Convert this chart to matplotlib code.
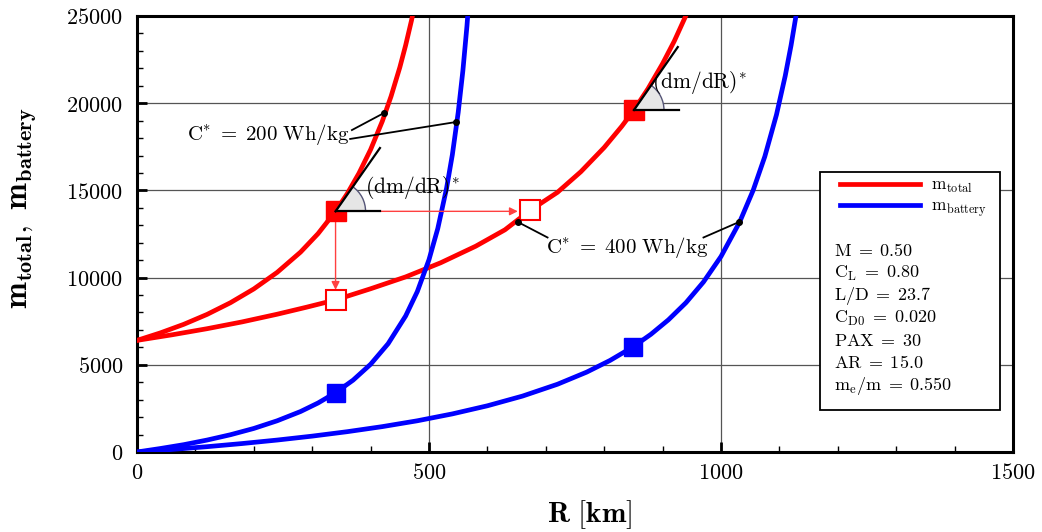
import numpy as np
import matplotlib
matplotlib.use('Agg')
import matplotlib.pyplot as plt
import matplotlib.transforms as mtransforms
from matplotlib.patches import Wedge, Rectangle
from matplotlib.ticker import MultipleLocator, FuncFormatter

plt.rcParams['mathtext.fontset'] = 'cm'
plt.rcParams['font.family'] = 'serif'

# --- data (R in km, mass in kg) ---
R1_total = [0, 40, 80, 120, 160, 200, 240, 280, 310, 340, 360, 380, 400, 420, 435, 450, 460, 470, 480]
m1_total = [6400, 6830, 7320, 7890, 8560, 9350, 10300, 11460, 12520, 13800, 14810, 15980, 17340,
            18960, 20390, 22050, 23320, 24740, 26350]

R1_batt = [0, 40, 80, 120, 160, 200, 240, 280, 310, 340, 370, 400, 430, 460, 480, 500, 515, 530,
           540, 550, 558, 565, 572]
m1_batt = [0, 200, 420, 685, 990, 1350, 1790, 2320, 2810, 3400, 4120, 5030, 6210, 7800, 9200,
           11030, 12810, 15110, 17050, 19470, 21860, 24430, 27590]

R2_total = [0, 60, 120, 180, 240, 290, 340, 400, 460, 520, 580, 630, 673, 720, 760, 800, 830, 851,
            875, 900, 920, 940]
m2_total = [6400, 6720, 7070, 7460, 7900, 8300, 8720, 9360, 10040, 10850, 11800, 12740, 13850,
            14890, 16070, 17460, 18670, 19610, 20830, 22270, 23560, 25030]

R2_batt = [0, 60, 120, 180, 240, 300, 360, 420, 480, 540, 600, 660, 720, 770, 810, 849, 880, 910,
           940, 970, 1000, 1032, 1055, 1075, 1095, 1110, 1120, 1130]
m2_batt = [0, 145, 305, 485, 685, 910, 1165, 1455, 1790, 2185, 2650, 3205, 3885, 4580, 5250, 6020,
           6750, 7580, 8560, 9750, 11210, 13190, 15000, 16940, 19340, 21570, 23320, 25330]

# design points
filled_total_R = [340, 851]
filled_total_m = [13800, 19610]
filled_batt_R = [340, 849]
filled_batt_m = [3400, 6020]
open_total_R = [340, 673]
open_total_m = [8720, 13850]

# tangent (dm/dR)* end points
tangent_R = [416, 926]
tangent_m = [17430, 23220]
tangent_flat_R = [416, 928]

# leader lines: (text end) -> (dot on curve)
lead200 = [((368, 18460), (423, 19440)), ((365, 17950), (546, 18920))]
lead400 = [((703, 12300), (652, 13190)), ((970, 12300), (1031, 13190))]

params = [r'$\mathrm{M}\;=\;\mathrm{0.50}$', r'$\mathrm{C_{L}}\;=\;\mathrm{0.80}$',
          r'$\mathrm{L/D}\;=\;\mathrm{23.7}$', r'$\mathrm{C_{D0}}\;=\;\mathrm{0.020}$',
          r'$\mathrm{PAX}\;=\;\mathrm{30}$', r'$\mathrm{AR}\;=\;\mathrm{15.0}$',
          r'$\mathrm{m_{e}/m}\;=\;\mathrm{0.550}$']

fig = plt.figure(figsize=(10.42, 5.32), dpi=100)
ax = fig.add_axes([137 / 1042, 1 - 452 / 532, 876 / 1042, 436 / 532])
ax.set_xlim(0, 1500)
ax.set_ylim(0, 25000)

# grid
ax.grid(True, which='major', color='#555555', linewidth=0.9)
ax.set_axisbelow(True)

lw = 3.4
l_tot, = ax.plot(R1_total, m1_total, color='#ff0000', lw=lw, zorder=3)
ax.plot(R2_total, m2_total, color='#ff0000', lw=lw, zorder=3)
l_bat, = ax.plot(R1_batt, m1_batt, color='#0000ff', lw=lw, zorder=3)
ax.plot(R2_batt, m2_batt, color='#0000ff', lw=lw, zorder=3)

# arrows between design points
arrow_kw = dict(arrowstyle='-|>', color='#ff4040', lw=1.0, mutation_scale=12, shrinkA=0, shrinkB=0)
ax.annotate('', xy=(340, 9300), xytext=(340, 13200), arrowprops=arrow_kw, zorder=4)
ax.annotate('', xy=(652, 13800), xytext=(416, 13800), arrowprops=arrow_kw, zorder=4)

# markers
ax.plot(filled_total_R, filled_total_m, 's', color='#ff0000', ms=14, zorder=5)
ax.plot(filled_batt_R, filled_batt_m, 's', color='#0000ff', ms=13, zorder=5)
ax.plot(open_total_R, open_total_m, 's', mfc='white', mec='#ff0000', mew=1.5, ms=14, zorder=5)

# tangents with angle wedges
for R0, m0, Rt, mt, Rf in zip(filled_total_R, filled_total_m, tangent_R, tangent_m, tangent_flat_R):
    p0 = ax.transData.transform((R0, m0))
    p1 = ax.transData.transform((Rt, mt))
    ang = np.degrees(np.arctan2(p1[1] - p0[1], p1[0] - p0[0]))
    w = Wedge(p0, 30, 0, ang, facecolor='#e6e6e6', edgecolor='#555577', lw=1.0,
              transform=mtransforms.IdentityTransform(), zorder=6)
    ax.add_artist(w)
    ax.plot([R0, Rt], [m0, mt], color='black', lw=1.6, zorder=7)
    ax.plot([R0, Rf], [m0, m0], color='black', lw=1.6, zorder=7)

ax.text(390, 15140, r'$\mathrm{(dm/dR)^{*}}$', fontsize=15.5, va='center', ha='left', zorder=8)
ax.text(882, 21160, r'$\mathrm{(dm/dR)^{*}}$', fontsize=15.5, va='center', ha='left', zorder=8)

# C* labels with leaders
ax.text(224, 18180, r'$\mathrm{C^{*}}\;=\;\mathrm{200\ Wh/kg}$', fontsize=15, ha='center',
        va='center', zorder=8)
ax.text(840, 11750, r'$\mathrm{C^{*}}\;=\;\mathrm{400\ Wh/kg}$', fontsize=15, ha='center',
        va='center', zorder=8)
for (a, b) in lead200 + lead400:
    ax.plot([a[0], b[0]], [a[1], b[1]], color='black', lw=1.3, zorder=8)
    ax.plot(b[0], b[1], 'o', color='black', ms=4, zorder=8)

# legend box
box = Rectangle((0.780, 0.0963), 0.205, 0.546, transform=ax.transAxes, facecolor='white',
                edgecolor='black', lw=1.3, zorder=9)
ax.add_patch(box)
leg = ax.legend([l_tot, l_bat], [r'$\mathrm{m_{total}}$', r'$\mathrm{m_{battery}}$'],
                loc='upper left', bbox_to_anchor=(0.803, 0.63), frameon=False, fontsize=12.5,
                handlelength=4.6, handletextpad=0.6, labelspacing=0.15, borderpad=0,
                borderaxespad=0)
leg.set_zorder(10)
for i, s in enumerate(params):
    ax.text(0.796, 0.461 - i * 0.0516, s, transform=ax.transAxes, fontsize=13,
            ha='left', va='center', zorder=10)

# axes styling
ax.xaxis.set_major_locator(MultipleLocator(500))
ax.xaxis.set_minor_locator(MultipleLocator(100))
ax.yaxis.set_major_locator(MultipleLocator(5000))
ax.yaxis.set_minor_locator(MultipleLocator(1000))
fmt = FuncFormatter(lambda v, p: r'$\mathrm{%d}$' % v)
ax.xaxis.set_major_formatter(fmt)
ax.yaxis.set_major_formatter(fmt)
ax.tick_params(which='major', direction='in', length=7, width=2, labelsize=16)
ax.tick_params(which='minor', direction='in', length=4, width=1)
ax.tick_params(axis='y', which='major', pad=10)
ax.tick_params(axis='x', which='major', pad=7)
for s in ax.spines.values():
    s.set_linewidth(2.2)

ax.set_xlabel(r'$\mathbf{R\ [km]}$', fontsize=21)
ax.set_ylabel(r'$\mathbf{m_{total},\ m_{battery}}$', fontsize=23)
ax.xaxis.set_label_coords(0.517, -0.105)
ax.yaxis.set_label_coords(-0.112, 0.56)

fig.savefig('out.png', dpi=100)
